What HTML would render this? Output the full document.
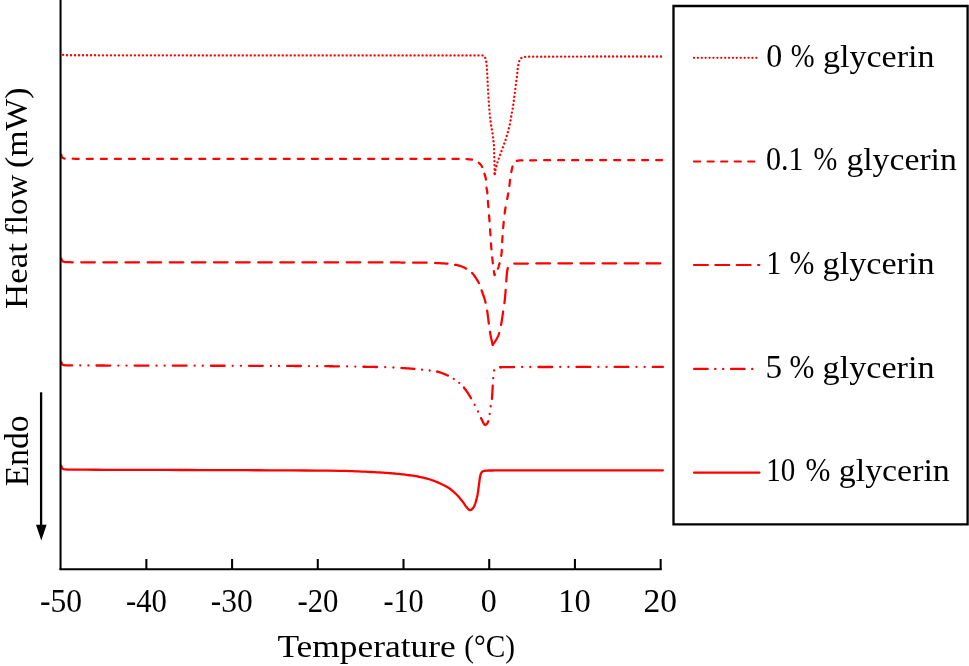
<!DOCTYPE html>
<html lang="en"><head><meta charset="utf-8"><title>DSC thermograms</title>
<style>html,body{margin:0;padding:0;background:#fff}svg{display:block}text{font-family:"Liberation Serif",serif;font-size:33px;fill:#000}</style></head><body>
<svg width="969" height="666" viewBox="0 0 969 666">
<rect width="969" height="666" fill="#fff"/>
<g fill="none" stroke="#ff0000" stroke-linecap="round" stroke-linejoin="round">
<path d="M61.30,52.30 L62.00,54.50 L64.00,55.20 L66.91,55.22 L69.85,55.24 L72.81,55.25 L75.80,55.26 L78.81,55.27 L81.83,55.28 L84.86,55.29 L87.90,55.29 L90.94,55.29 L93.97,55.29 L96.99,55.30 L100.00,55.30 L116.67,55.32 L133.33,55.33 L150.00,55.34 L166.67,55.36 L183.33,55.37 L200.00,55.38 L216.67,55.38 L233.33,55.39 L250.00,55.39 L266.67,55.40 L283.33,55.40 L300.00,55.40 L314.17,55.40 L328.33,55.40 L342.50,55.40 L356.67,55.40 L370.83,55.40 L385.00,55.40 L399.17,55.40 L413.33,55.40 L427.50,55.40 L441.67,55.40 L455.83,55.40 L470.00,55.40 L471.57,55.40 L473.15,55.40 L474.74,55.40 L476.33,55.40 L477.90,55.40 L479.46,55.40 L481.00,55.40 L482.50,55.40 L484.40,56.20 L485.24,57.79 L485.80,59.80 L486.22,61.63 L486.50,63.50 L486.67,65.55 L486.80,67.60 L486.91,69.18 L487.01,70.76 L487.11,72.34 L487.21,73.92 L487.30,75.50 L487.39,77.12 L487.47,78.74 L487.54,80.36 L487.62,81.98 L487.70,83.60 L487.78,85.18 L487.86,86.76 L487.93,88.34 L488.01,89.92 L488.10,91.50 L488.19,93.08 L488.29,94.66 L488.39,96.24 L488.49,97.82 L488.60,99.40 L488.71,101.00 L488.83,102.60 L488.95,104.20 L489.07,105.80 L489.20,107.40 L489.33,109.04 L489.46,110.68 L489.60,112.32 L489.74,113.96 L489.90,115.60 L490.06,117.12 L490.22,118.64 L490.40,120.17 L490.59,121.68 L490.80,123.20 L491.03,124.70 L491.30,126.20 L491.58,127.70 L491.85,129.20 L492.10,130.70 L492.34,132.32 L492.58,133.93 L492.80,135.56 L493.01,137.18 L493.20,138.80 L493.39,140.44 L493.58,142.08 L493.76,143.72 L493.91,145.36 L494.00,147.00 L494.05,148.62 L494.09,150.24 L494.13,151.86 L494.16,153.48 L494.20,155.10 L494.26,156.72 L494.33,158.34 L494.40,159.96 L494.46,161.58 L494.50,163.20 L494.52,164.70 L494.54,166.20 L494.56,167.70 L494.57,169.20 L494.58,170.70 L494.59,172.20 L494.60,173.70 L494.60,175.20" stroke-width="2.35" stroke-dasharray="0.01 3.985" stroke-dashoffset="0.56"/>
<path d="M494.60,175.20 L494.84,173.62 L495.12,172.04 L495.42,170.48 L495.76,168.92 L496.12,167.37 L496.50,165.83 L496.90,164.30 L497.43,162.51 L498.03,160.73 L498.67,158.97 L499.30,157.20 L499.83,155.70 L500.37,154.20 L500.91,152.70 L501.45,151.20 L502.00,149.70 L502.54,148.24 L503.09,146.78 L503.64,145.33 L504.18,143.87 L504.70,142.40 L505.19,140.95 L505.66,139.49 L506.12,138.03 L506.57,136.57 L507.00,135.10 L507.45,133.55 L507.89,131.99 L508.32,130.43 L508.72,128.87 L509.10,127.30 L509.45,125.73 L509.78,124.15 L510.10,122.57 L510.40,120.98 L510.70,119.40 L511.01,117.68 L511.30,115.95 L511.60,114.22 L511.90,112.50 L512.20,110.93 L512.52,109.37 L512.80,107.80 L513.04,106.22 L513.27,104.65 L513.48,103.06 L513.69,101.48 L513.90,99.90 L514.13,98.26 L514.35,96.62 L514.57,94.98 L514.79,93.34 L515.00,91.70 L515.19,90.12 L515.36,88.54 L515.53,86.96 L515.71,85.38 L515.90,83.80 L516.11,82.20 L516.34,80.60 L516.57,79.00 L516.80,77.40 L517.00,75.80 L517.17,74.22 L517.31,72.64 L517.45,71.05 L517.61,69.47 L517.80,67.90 L518.15,65.79 L518.60,63.70 L519.03,61.89 L519.60,60.20 L520.53,58.67 L521.80,57.60 L523.55,57.13 L525.50,56.90 L527.12,56.82 L528.74,56.76 L530.37,56.72 L532.00,56.70 L542.91,56.66 L553.81,56.62 L564.72,56.60 L575.62,56.57 L586.53,56.55 L597.44,56.53 L608.35,56.52 L619.25,56.51 L630.16,56.51 L641.08,56.50 L651.99,56.50 L662.90,56.50" stroke-width="2.35" stroke-dasharray="0.01 3.985" stroke-dashoffset="2.82"/>
<path d="M61.30,154.90 L61.56,155.87 L61.82,156.83 L62.28,157.63 L63.18,158.07 L64.08,158.50 L65.04,158.70 L66.04,158.71 L67.04,158.72 L68.04,158.72 L69.04,158.73 L70.04,158.73 L71.04,158.74 L72.04,158.74 L73.04,158.74 L74.04,158.75 L75.04,158.75 L76.04,158.75 L77.04,158.76 L78.04,158.76 L79.04,158.76 L80.04,158.76 L81.04,158.77 L82.04,158.77 L83.04,158.77 L84.04,158.77 L85.04,158.77 L86.04,158.77 L87.04,158.77 L88.04,158.77 L89.04,158.78 L90.04,158.78 L91.04,158.78 L92.04,158.78 L93.04,158.78 L94.04,158.78 L95.04,158.78 L96.04,158.78 L97.04,158.78 L98.04,158.78 L99.04,158.78 L100.04,158.78 L101.04,158.78 L102.04,158.78 L103.04,158.78 L104.04,158.78 L105.04,158.78 L106.04,158.78 L107.04,158.78 L108.04,158.78 L109.04,158.78 L110.04,158.78 L111.04,158.78 L112.04,158.78 L113.04,158.78 L114.04,158.78 L115.04,158.78 L116.04,158.78 L117.04,158.78 L118.04,158.78 L119.04,158.78 L120.05,158.78 L121.05,158.78 L122.05,158.78 L123.05,158.78 L124.05,158.78 L125.05,158.78 L126.05,158.78 L127.05,158.78 L128.05,158.78 L129.05,158.78 L130.05,158.78 L131.05,158.78 L132.05,158.78 L133.05,158.78 L134.05,158.78 L135.05,158.78 L136.05,158.78 L137.05,158.78 L138.05,158.78 L139.05,158.78 L140.05,158.78 L141.05,158.78 L142.05,158.78 L143.05,158.79 L144.05,158.79 L145.05,158.79 L146.05,158.79 L147.05,158.79 L148.05,158.79 L149.05,158.79 L150.05,158.79 L151.05,158.79 L152.05,158.79 L153.05,158.79 L154.05,158.79 L155.05,158.79 L156.05,158.79 L157.05,158.79 L158.05,158.79 L159.05,158.79 L160.05,158.79 L161.05,158.79 L162.05,158.79 L163.05,158.79 L164.05,158.79 L165.05,158.79 L166.05,158.79 L167.05,158.79 L168.05,158.79 L169.05,158.79 L170.05,158.79 L171.05,158.79 L172.05,158.79 L173.05,158.79 L174.05,158.79 L175.05,158.79 L176.06,158.79 L177.06,158.79 L178.06,158.79 L179.06,158.79 L180.06,158.79 L181.06,158.79 L182.06,158.79 L183.06,158.79 L184.06,158.79 L185.06,158.79 L186.06,158.79 L187.06,158.79 L188.06,158.79 L189.06,158.79 L190.06,158.79 L191.06,158.79 L192.06,158.79 L193.06,158.79 L194.06,158.79 L195.06,158.79 L196.06,158.79 L197.06,158.79 L198.06,158.79 L199.06,158.79 L200.06,158.79 L201.06,158.79 L202.06,158.79 L203.06,158.79 L204.06,158.79 L205.06,158.79 L206.06,158.79 L207.06,158.79 L208.06,158.79 L209.06,158.79 L210.06,158.79 L211.06,158.79 L212.06,158.79 L213.06,158.79 L214.06,158.79 L215.06,158.79 L216.06,158.79 L217.06,158.79 L218.06,158.79 L219.06,158.79 L220.06,158.79 L221.06,158.79 L222.06,158.79 L223.06,158.79 L224.06,158.79 L225.06,158.79 L226.06,158.79 L227.06,158.79 L228.06,158.79 L229.06,158.79 L230.06,158.79 L231.06,158.79 L232.07,158.79 L233.07,158.79 L234.07,158.79 L235.07,158.79 L236.07,158.79 L237.07,158.79 L238.07,158.79 L239.07,158.79 L240.07,158.79 L241.07,158.79 L242.07,158.79 L243.07,158.79 L244.07,158.79 L245.07,158.79 L246.07,158.79 L247.07,158.79 L248.07,158.79 L249.07,158.79 L250.07,158.79 L251.07,158.79 L252.07,158.79 L253.07,158.79 L254.07,158.79 L255.07,158.79 L256.07,158.79 L257.07,158.79 L258.07,158.79 L259.07,158.79 L260.07,158.79 L261.07,158.79 L262.07,158.79 L263.07,158.79 L264.07,158.79 L265.07,158.79 L266.07,158.79 L267.07,158.79 L268.07,158.79 L269.07,158.79 L270.07,158.79 L271.07,158.79 L272.07,158.79 L273.07,158.79 L274.07,158.79 L275.07,158.79 L276.07,158.79 L277.07,158.79 L278.07,158.79 L279.07,158.79 L280.07,158.79 L281.07,158.79 L282.07,158.79 L283.07,158.79 L284.07,158.79 L285.07,158.79 L286.07,158.79 L287.07,158.79 L288.08,158.79 L289.08,158.79 L290.08,158.79 L291.08,158.79 L292.08,158.79 L293.08,158.79 L294.08,158.79 L295.08,158.79 L296.08,158.79 L297.08,158.79 L298.08,158.79 L299.08,158.79 L300.08,158.79 L301.08,158.79 L302.08,158.79 L303.08,158.79 L304.08,158.79 L305.08,158.79 L306.08,158.79 L307.08,158.79 L308.08,158.79 L309.08,158.79 L310.08,158.79 L311.08,158.79 L312.08,158.79 L313.08,158.79 L314.08,158.79 L315.08,158.79 L316.08,158.79 L317.08,158.79 L318.08,158.79 L319.08,158.79 L320.08,158.79 L321.08,158.79 L322.08,158.79 L323.08,158.79 L324.08,158.79 L325.08,158.79 L326.08,158.79 L327.08,158.79 L328.08,158.79 L329.08,158.79 L330.08,158.79 L331.08,158.79 L332.08,158.79 L333.08,158.79 L334.08,158.79 L335.08,158.79 L336.08,158.79 L337.08,158.79 L338.08,158.79 L339.08,158.79 L340.08,158.79 L341.08,158.79 L342.08,158.79 L343.08,158.79 L344.09,158.79 L345.09,158.79 L346.09,158.79 L347.09,158.79 L348.09,158.79 L349.09,158.79 L350.09,158.79 L351.09,158.79 L352.09,158.79 L353.09,158.79 L354.09,158.79 L355.09,158.79 L356.09,158.79 L357.09,158.79 L358.09,158.79 L359.09,158.79 L360.09,158.79 L361.09,158.79 L362.09,158.79 L363.09,158.79 L364.09,158.79 L365.09,158.79 L366.09,158.79 L367.09,158.79 L368.09,158.79 L369.09,158.79 L370.09,158.79 L371.09,158.79 L372.09,158.79 L373.09,158.79 L374.09,158.79 L375.09,158.79 L376.09,158.79 L377.09,158.79 L378.09,158.79 L379.09,158.79 L380.09,158.79 L381.09,158.79 L382.09,158.79 L383.09,158.79 L384.09,158.79 L385.09,158.79 L386.09,158.79 L387.09,158.79 L388.09,158.79 L389.09,158.79 L390.09,158.79 L391.09,158.79 L392.09,158.79 L393.09,158.79 L394.09,158.79 L395.09,158.79 L396.09,158.79 L397.09,158.79 L398.09,158.79 L399.09,158.79 L400.10,158.79 L401.10,158.80 L402.10,158.80 L403.10,158.80 L404.10,158.80 L405.10,158.80 L406.10,158.80 L407.10,158.80 L408.10,158.80 L409.10,158.80 L410.10,158.80 L411.10,158.80 L412.10,158.80 L413.10,158.80 L414.10,158.80 L415.10,158.80 L416.10,158.80 L417.10,158.80 L418.10,158.80 L419.10,158.80 L420.10,158.80 L421.10,158.80 L422.10,158.80 L423.10,158.80 L424.10,158.80 L425.10,158.80 L426.10,158.80 L427.10,158.80 L428.10,158.80 L429.10,158.80 L430.10,158.80 L431.10,158.80 L432.10,158.80 L433.10,158.80 L434.10,158.80 L435.10,158.80 L436.10,158.80 L437.10,158.80 L438.10,158.80 L439.10,158.80 L440.10,158.80 L441.10,158.80 L442.10,158.80 L443.10,158.81 L444.10,158.81 L445.10,158.81 L446.10,158.82 L447.10,158.82 L448.10,158.83 L449.10,158.84 L450.10,158.85 L451.10,158.86 L452.10,158.87 L453.10,158.88 L454.10,158.89 L455.10,158.90 L456.10,158.92 L457.10,158.93 L458.10,158.95 L459.10,158.97 L460.10,158.99 L461.10,159.01 L462.10,159.03 L463.10,159.05 L464.10,159.07 L465.10,159.10 L466.10,159.13 L466.50,159.15" stroke-width="2.25" stroke-dasharray="6.05 8.02" stroke-dashoffset="0.56"/>
<path d="M466.50,159.15 L467.50,159.20 L468.50,159.27 L469.50,159.37 L470.49,159.48 L471.48,159.60 L472.47,159.75 L473.44,159.98 L474.40,160.26 L475.32,160.67 L476.22,161.10 L477.07,161.62 L477.91,162.16 L478.71,162.77" pathLength="14.070" stroke-width="2.25" stroke-dasharray="6.05 8.02"/>
<path d="M478.71,162.77 L479.45,163.43 L480.18,164.12 L480.82,164.88 L481.44,165.67 L481.97,166.52 L482.41,167.41 L482.78,168.34 L483.09,169.29 L483.37,170.25 L483.64,171.21 L483.91,172.18 L484.21,173.13 L484.39,173.70" pathLength="14.070" stroke-width="2.25" stroke-dasharray="6.05 8.02"/>
<path d="M484.39,173.70 L484.71,174.65 L485.03,175.60 L485.31,176.56 L485.59,177.52 L485.76,178.50 L485.91,179.49 L485.99,180.49 L486.05,181.49 L486.09,182.49 L486.14,183.48 L486.18,184.48 L486.24,185.48 L486.31,186.48 L486.44,187.47 L486.47,187.67" pathLength="14.070" stroke-width="2.25" stroke-dasharray="6.05 8.02"/>
<path d="M486.47,187.67 L486.64,188.66 L486.82,189.64 L487.01,190.62 L487.17,191.61 L487.31,192.60 L487.40,193.59 L487.49,194.59 L487.57,195.59 L487.64,196.58 L487.71,197.58 L487.77,198.58 L487.84,199.58 L487.90,200.58 L487.93,200.98" pathLength="14.070" stroke-width="2.25" stroke-dasharray="6.05 8.02"/>
<path d="M487.93,200.98 L487.99,201.97 L488.06,202.97 L488.14,203.97 L488.21,204.97 L488.30,205.96 L488.38,206.96 L488.46,207.96 L488.54,208.95 L488.63,209.95 L488.71,210.95 L488.79,211.94 L488.88,212.94 L488.96,213.94 L489.04,214.93 L489.07,215.33" pathLength="14.070" stroke-width="2.25" stroke-dasharray="6.05 8.02"/>
<path d="M489.07,215.33 L489.15,216.33 L489.22,217.33 L489.30,218.32 L489.37,219.32 L489.45,220.32 L489.52,221.32 L489.59,222.31 L489.66,223.31 L489.73,224.31 L489.80,225.31 L489.87,226.31 L489.94,227.30 L490.01,228.30 L490.07,229.30" pathLength="14.070" stroke-width="2.25" stroke-dasharray="6.05 8.02"/>
<path d="M490.07,229.30 L490.14,230.30 L490.21,231.30 L490.27,232.29 L490.33,233.29 L490.40,234.29 L490.46,235.29 L490.52,236.29 L490.57,237.28 L490.63,238.28 L490.69,239.28 L490.75,240.28 L490.82,241.28 L490.88,242.28 L490.95,243.27" pathLength="14.070" stroke-width="2.25" stroke-dasharray="6.05 8.02"/>
<path d="M490.95,243.27 L491.02,244.27 L491.09,245.27 L491.17,246.27 L491.25,247.26 L491.33,248.26 L491.41,249.26 L491.50,250.25 L491.59,251.25 L491.68,252.25 L491.77,253.24 L491.87,254.24 L491.97,255.23 L492.07,256.23 L492.17,257.22 L492.19,257.42" pathLength="14.070" stroke-width="2.25" stroke-dasharray="6.05 8.02"/>
<path d="M492.19,257.42 L492.30,258.42 L492.40,259.41 L492.51,260.40 L492.62,261.40 L492.74,262.39 L492.86,263.39 L492.98,264.38 L493.10,265.37 L493.23,266.36 L493.36,267.36 L493.49,268.35 L493.62,269.34 L493.76,270.33 L493.87,271.12" pathLength="14.070" stroke-width="2.25" stroke-dasharray="6.05 8.02"/>
<path d="M493.87,271.12 L494.01,272.11 L494.16,273.10 L494.30,274.09 L494.45,275.08 L494.83,274.81 L495.32,273.94 L495.79,273.06 L496.25,272.17 L496.70,271.27 L497.12,270.37 L497.53,269.45 L497.84,268.72" pathLength="14.070" stroke-width="2.25" stroke-dasharray="6.05 8.02"/>
<path d="M497.84,268.72 L498.20,267.78 L498.53,266.84 L498.84,265.89 L499.12,264.93 L499.40,263.97 L499.66,263.00 L499.91,262.04 L500.16,261.07 L500.39,260.09 L500.61,259.12 L500.81,258.14 L501.00,257.15 L501.17,256.17 L501.23,255.77" pathLength="14.070" stroke-width="2.25" stroke-dasharray="6.05 8.02"/>
<path d="M501.23,255.77 L501.37,254.78 L501.49,253.79 L501.60,252.80 L501.68,251.80 L501.75,250.80 L501.81,249.80 L501.87,248.81 L501.92,247.81 L501.97,246.81 L502.01,245.81 L502.06,244.81 L502.10,243.81 L502.15,242.81 L502.18,242.21" pathLength="14.070" stroke-width="2.25" stroke-dasharray="6.05 8.02"/>
<path d="M502.18,242.21 L502.23,241.21 L502.29,240.21 L502.35,239.22 L502.41,238.22 L502.48,237.22 L502.54,236.22 L502.61,235.22 L502.68,234.23 L502.75,233.23 L502.82,232.23 L502.90,231.23 L502.97,230.24 L503.05,229.24 L503.13,228.24 L503.15,228.04" pathLength="14.070" stroke-width="2.25" stroke-dasharray="6.05 8.02"/>
<path d="M503.15,228.04 L503.23,227.05 L503.32,226.05 L503.40,225.05 L503.50,224.06 L503.59,223.06 L503.69,222.07 L503.79,221.07 L503.89,220.08 L503.99,219.08 L504.10,218.09 L504.21,217.09 L504.33,216.10 L504.45,215.11 L504.57,214.11 L504.62,213.72" pathLength="14.070" stroke-width="2.25" stroke-dasharray="6.05 8.02"/>
<path d="M504.62,213.72 L504.75,212.73 L504.89,211.73 L505.02,210.74 L505.17,209.75 L505.33,208.77 L505.49,207.78 L505.66,206.79 L505.84,205.81 L506.03,204.83 L506.22,203.85 L506.41,202.86 L506.60,201.88 L506.80,200.90 L506.99,199.92 L507.18,198.94" pathLength="14.070" stroke-width="2.25" stroke-dasharray="6.05 8.02"/>
<path d="M507.18,198.94 L507.36,197.95 L507.54,196.97 L507.72,195.99 L507.89,195.00 L508.07,194.02 L508.24,193.03 L508.42,192.05 L508.59,191.06 L508.75,190.08 L508.91,189.09 L509.07,188.10 L509.21,187.11 L509.34,186.12 L509.37,185.92" pathLength="14.070" stroke-width="2.25" stroke-dasharray="6.05 8.02"/>
<path d="M509.37,185.92 L509.49,184.93 L509.61,183.93 L509.73,182.94 L509.85,181.95 L509.98,180.96 L510.11,179.97 L510.25,178.97 L510.38,177.98 L510.53,176.99 L510.67,176.00 L510.82,175.01 L510.98,174.03 L511.15,173.04 L511.32,172.06" pathLength="14.070" stroke-width="2.25" stroke-dasharray="6.05 8.02"/>
<path d="M511.32,172.06 L511.50,171.07 L511.69,170.09 L511.89,169.11 L512.11,168.13 L512.34,167.16 L512.59,166.19 L512.84,165.23 L513.18,164.28 L513.54,163.35 L514.18,162.59 L514.87,161.87 L515.56,161.15 L516.51,160.89 L516.71,160.85" pathLength="14.070" stroke-width="2.25" stroke-dasharray="6.05 8.02"/>
<path d="M516.71,160.85 L517.69,160.68 L518.68,160.53 L519.68,160.44 L520.68,160.36 L521.68,160.32 L522.68,160.30 L523.68,160.30 L524.68,160.29 L525.68,160.29 L526.68,160.28 L527.68,160.28 L528.68,160.28 L529.68,160.27 L530.08,160.27" pathLength="14.070" stroke-width="2.25" stroke-dasharray="6.05 8.02"/>
<path d="M530.08,160.27 L531.08,160.27 L532.08,160.26 L533.08,160.26 L534.08,160.26 L535.08,160.25 L536.08,160.25 L537.08,160.25 L538.08,160.24 L539.08,160.24 L540.08,160.24 L541.08,160.23 L542.08,160.23 L543.08,160.23 L544.08,160.23 L545.08,160.22 L546.08,160.22 L547.08,160.22 L548.08,160.21 L549.08,160.21 L550.08,160.21 L551.08,160.21 L552.08,160.20 L553.08,160.20 L554.08,160.20 L555.08,160.20 L556.08,160.19 L557.08,160.19 L558.08,160.19 L559.08,160.19 L560.08,160.18 L561.08,160.18 L562.08,160.18 L563.08,160.18 L564.08,160.18 L565.08,160.17 L566.08,160.17 L567.08,160.17 L568.08,160.17 L569.08,160.17 L570.08,160.16 L571.08,160.16 L572.08,160.16 L573.08,160.16 L574.08,160.16 L575.08,160.15 L576.08,160.15 L577.08,160.15 L578.08,160.15 L579.09,160.15 L580.09,160.15 L581.09,160.14 L582.09,160.14 L583.09,160.14 L584.09,160.14 L585.09,160.14 L586.09,160.14 L587.09,160.14 L588.09,160.14 L589.09,160.13 L590.09,160.13 L591.09,160.13 L592.09,160.13 L593.09,160.13 L594.09,160.13 L595.09,160.13 L596.09,160.13 L597.09,160.13 L598.09,160.12 L599.09,160.12 L600.09,160.12 L601.09,160.12 L602.09,160.12 L603.09,160.12 L604.09,160.12 L605.09,160.12 L606.09,160.12 L607.09,160.12 L608.09,160.12 L609.09,160.12 L610.09,160.11 L611.09,160.11 L612.09,160.11 L613.09,160.11 L614.09,160.11 L615.09,160.11 L616.09,160.11 L617.09,160.11 L618.09,160.11 L619.09,160.11 L620.09,160.11 L621.09,160.11 L622.09,160.11 L623.09,160.11 L624.09,160.11 L625.09,160.11 L626.09,160.11 L627.09,160.11 L628.09,160.10 L629.09,160.10 L630.09,160.10 L631.09,160.10 L632.09,160.10 L633.09,160.10 L634.09,160.10 L635.10,160.10 L636.10,160.10 L637.10,160.10 L638.10,160.10 L639.10,160.10 L640.10,160.10 L641.10,160.10 L642.10,160.10 L643.10,160.10 L644.10,160.10 L645.10,160.10 L646.10,160.10 L647.10,160.10 L648.10,160.10 L649.10,160.10 L650.10,160.10 L651.10,160.10 L652.10,160.10 L653.10,160.10 L654.10,160.10 L655.10,160.10 L656.10,160.10" pathLength="126.630" stroke-width="2.25" stroke-dasharray="6.05 8.02"/>
<path d="M656.10,160.10 L657.10,160.10 L658.10,160.10 L659.10,160.10 L660.10,160.10 L661.10,160.10 L662.10,160.10 L662.90,160.10" stroke-width="2.25" stroke-dasharray="6.05 8.02"/>
<path d="M61.30,258.60 L61.60,259.55 L61.91,260.51 L62.59,261.16 L63.46,261.64 L64.44,261.87 L65.42,262.03 L66.42,262.09 L67.42,262.13 L68.42,262.18 L69.42,262.21 L70.42,262.24 L71.42,262.27 L72.42,262.28 L73.42,262.29 L74.42,262.30 L75.42,262.30 L76.42,262.30 L77.42,262.30 L78.42,262.30 L79.42,262.30 L80.42,262.30 L81.22,262.30" stroke-width="2.25" stroke-dasharray="13.6 8.5" stroke-dashoffset="0.30"/>
<path d="M81.22,262.30 L82.22,262.30 L83.22,262.30 L84.22,262.30 L85.22,262.30 L86.22,262.30 L87.22,262.30 L88.22,262.30 L89.22,262.30 L90.22,262.30 L91.22,262.30 L92.22,262.30 L93.22,262.30 L94.22,262.30 L95.22,262.30 L96.22,262.30 L97.22,262.30 L98.22,262.30 L99.22,262.30 L100.22,262.30 L101.22,262.30 L102.22,262.30 L103.22,262.30 L104.22,262.30 L105.22,262.30 L106.22,262.30 L107.22,262.30 L108.22,262.30 L109.22,262.30 L110.22,262.30 L111.22,262.30 L112.22,262.30 L113.22,262.30 L114.22,262.30 L115.23,262.30 L116.23,262.30 L117.23,262.30 L118.23,262.30 L119.23,262.30 L120.23,262.30 L121.23,262.30 L122.23,262.30 L123.23,262.30 L124.23,262.30 L125.23,262.30 L126.23,262.30 L127.23,262.30 L128.23,262.30 L129.23,262.30 L130.23,262.30 L131.23,262.30 L132.23,262.30 L133.23,262.30 L134.23,262.30 L135.23,262.30 L136.23,262.30 L137.23,262.30 L138.23,262.30 L139.23,262.30 L140.23,262.30 L141.23,262.30 L142.23,262.30 L143.23,262.30 L144.23,262.30 L145.23,262.30 L146.23,262.30 L147.23,262.30 L148.23,262.30 L149.23,262.30 L150.23,262.30 L151.23,262.30 L152.23,262.30 L153.23,262.30 L154.23,262.30 L155.23,262.30 L156.23,262.30 L157.23,262.30 L158.23,262.30 L159.23,262.30 L160.24,262.30 L161.24,262.30 L162.24,262.30 L163.24,262.30 L164.24,262.30 L165.24,262.30 L166.24,262.30 L167.24,262.30 L168.24,262.30 L169.24,262.30 L170.24,262.30 L171.24,262.30 L172.24,262.30 L173.24,262.30 L174.24,262.30 L175.24,262.30 L176.24,262.30 L177.24,262.30 L178.24,262.30 L179.24,262.30 L180.24,262.30 L181.24,262.30 L182.24,262.30 L183.24,262.30 L184.24,262.30 L185.24,262.30 L186.24,262.30 L187.24,262.30 L188.24,262.30 L189.24,262.30 L190.24,262.30 L191.24,262.30 L192.24,262.30 L193.24,262.30 L194.24,262.30 L195.24,262.30 L196.24,262.30 L197.24,262.30 L198.24,262.30 L199.24,262.30 L200.24,262.30 L201.24,262.30 L202.24,262.30 L203.24,262.30 L204.24,262.30 L205.25,262.30 L206.25,262.30 L207.25,262.30 L208.25,262.30 L209.25,262.30 L210.25,262.30 L211.25,262.30 L212.25,262.30 L213.25,262.30 L214.25,262.30 L215.25,262.30 L216.25,262.30 L217.25,262.30 L218.25,262.30 L219.25,262.30 L220.25,262.30 L221.25,262.30 L222.25,262.30 L223.25,262.30 L224.25,262.30 L225.25,262.30 L226.25,262.30 L227.25,262.30 L228.25,262.30 L229.25,262.30 L230.25,262.30 L231.25,262.30 L232.25,262.30 L233.25,262.30 L234.25,262.30 L235.25,262.30 L236.25,262.30 L237.25,262.30 L238.25,262.30 L239.25,262.30 L240.25,262.30 L241.25,262.30 L242.25,262.30 L243.25,262.30 L244.25,262.30 L245.25,262.30 L246.25,262.30 L247.25,262.30 L248.25,262.30 L249.26,262.30 L250.26,262.30 L251.26,262.30 L252.26,262.30 L253.26,262.30 L254.26,262.30 L255.26,262.30 L256.26,262.30 L257.26,262.30 L258.26,262.30 L259.26,262.30 L260.26,262.30 L261.26,262.30 L262.26,262.30 L263.26,262.30 L264.26,262.30 L265.26,262.30 L266.26,262.30 L267.26,262.30 L268.26,262.30 L269.26,262.30 L270.26,262.30 L271.26,262.30 L272.26,262.30 L273.26,262.30 L274.26,262.30 L275.26,262.30 L276.26,262.30 L277.26,262.30 L278.26,262.30 L279.26,262.30 L280.26,262.30 L281.26,262.30 L282.26,262.30 L283.26,262.30 L284.26,262.30 L285.26,262.30 L286.26,262.30 L287.26,262.30 L288.26,262.30 L289.26,262.30 L290.26,262.30 L291.26,262.30 L292.26,262.30 L293.26,262.30 L294.27,262.30 L295.27,262.30 L296.27,262.30 L297.27,262.30 L298.27,262.30 L299.27,262.30 L300.27,262.30 L301.27,262.30 L302.27,262.30 L303.27,262.30 L304.27,262.30 L305.27,262.30 L306.27,262.30 L307.27,262.30 L308.27,262.30 L309.27,262.30 L310.27,262.30 L311.27,262.30 L312.27,262.30 L313.27,262.30 L314.27,262.30 L315.27,262.30 L316.27,262.30 L317.27,262.30 L318.27,262.31 L319.27,262.31 L320.27,262.31 L321.27,262.31 L322.27,262.31 L323.27,262.31 L324.27,262.31 L325.27,262.31 L326.27,262.31 L327.27,262.31 L328.27,262.31 L329.27,262.31 L330.27,262.31 L331.27,262.32 L332.27,262.32 L333.27,262.32 L334.27,262.32 L335.27,262.32 L336.27,262.32 L337.27,262.32 L338.27,262.32 L339.28,262.33 L340.28,262.33 L341.28,262.33 L342.28,262.33 L343.28,262.33 L344.28,262.33 L345.28,262.33 L346.28,262.34 L347.28,262.34 L348.28,262.34 L349.28,262.34 L350.28,262.34 L351.28,262.35 L352.28,262.35 L353.28,262.35 L354.28,262.35 L355.28,262.35 L356.28,262.36 L357.28,262.36 L358.28,262.36 L359.28,262.36 L360.28,262.36 L361.28,262.37 L362.28,262.37 L363.28,262.37 L364.28,262.37 L365.28,262.38 L366.28,262.38 L367.28,262.38 L368.28,262.38 L369.28,262.39 L370.28,262.39 L371.28,262.39 L372.28,262.40 L373.28,262.40 L374.28,262.40 L375.28,262.41 L376.28,262.41 L377.28,262.41 L378.28,262.41 L379.28,262.42 L380.28,262.42 L381.28,262.42 L382.28,262.43 L383.28,262.43 L384.28,262.43 L385.29,262.44 L386.29,262.44 L387.29,262.45 L388.29,262.45 L389.29,262.45 L390.29,262.46 L391.29,262.46 L392.29,262.47 L393.29,262.47 L394.29,262.47 L395.29,262.48 L396.29,262.48 L397.29,262.49 L398.29,262.49 L399.29,262.49 L400.29,262.50 L401.29,262.50 L402.29,262.51 L403.29,262.51 L404.29,262.52 L405.29,262.52 L406.29,262.53 L407.29,262.53 L408.29,262.54 L409.29,262.54 L410.29,262.55 L411.29,262.55 L412.29,262.56 L413.29,262.56 L414.29,262.57 L415.29,262.57 L416.29,262.58 L417.29,262.59 L418.29,262.59 L419.29,262.60 L420.29,262.60 L421.29,262.61 L422.29,262.62 L423.29,262.64 L424.29,262.65 L425.29,262.67 L426.29,262.70 L427.29,262.72 L428.29,262.75 L429.29,262.78 L430.29,262.81 L431.29,262.85 L432.29,262.88 L433.29,262.92 L434.29,262.96 L435.09,262.99" pathLength="353.600" stroke-width="2.25" stroke-dasharray="13.6 8.5"/>
<path d="M435.09,262.99 L436.09,263.03 L437.09,263.07 L438.09,263.12 L439.09,263.16 L440.09,263.20 L441.09,263.26 L442.08,263.31 L443.08,263.37 L444.08,263.44 L445.08,263.52 L446.07,263.60 L447.07,263.69 L448.07,263.78 L449.06,263.88 L450.06,263.99 L451.05,264.11 L452.04,264.25 L453.03,264.39 L454.02,264.55 L455.00,264.73 L455.20,264.77" pathLength="22.100" stroke-width="2.25" stroke-dasharray="13.6 8.5"/>
<path d="M455.20,264.77 L456.18,264.95 L457.16,265.17 L458.13,265.39 L459.10,265.64 L460.06,265.92 L461.02,266.21 L461.95,266.56 L462.88,266.95 L463.78,267.37 L464.67,267.83 L465.55,268.31 L466.42,268.80 L467.28,269.31 L468.14,269.82 L468.98,270.37 L469.80,270.93 L470.59,271.55 L471.36,272.19 L472.07,272.89" pathLength="22.100" stroke-width="2.25" stroke-dasharray="13.6 8.5"/>
<path d="M472.07,272.89 L472.74,273.63 L473.37,274.41 L473.97,275.21 L474.55,276.02 L475.12,276.84 L475.68,277.67 L476.24,278.50 L476.77,279.35 L477.29,280.20 L477.80,281.07 L478.26,281.95 L478.72,282.84 L479.12,283.76 L479.52,284.68 L479.88,285.61 L480.24,286.54 L480.58,287.48 L480.92,288.42 L481.25,289.37 L481.59,290.31" pathLength="22.100" stroke-width="2.25" stroke-dasharray="13.6 8.5"/>
<path d="M481.59,290.31 L481.93,291.25 L482.27,292.19 L482.61,293.13 L482.95,294.07 L483.28,295.02 L483.61,295.96 L483.92,296.91 L484.23,297.86 L484.53,298.81 L484.82,299.77 L485.09,300.73 L485.34,301.70 L485.59,302.67 L485.82,303.65 L486.03,304.62 L486.23,305.60 L486.43,306.58 L486.61,307.57 L486.79,308.55 L486.96,309.54 L487.11,310.53 L487.14,310.72" pathLength="22.100" stroke-width="2.25" stroke-dasharray="13.6 8.5"/>
<path d="M487.14,310.72 L487.30,311.71 L487.44,312.70 L487.58,313.69 L487.71,314.68 L487.84,315.68 L487.97,316.67 L488.09,317.66 L488.21,318.65 L488.34,319.65 L488.46,320.64 L488.58,321.63 L488.71,322.62 L488.84,323.61 L488.97,324.61 L489.09,325.60 L489.22,326.59 L489.35,327.58 L489.48,328.57 L489.62,329.56 L489.76,330.55 L489.92,331.54 L489.95,331.74" pathLength="22.100" stroke-width="2.25" stroke-dasharray="13.6 8.5"/>
<path d="M489.95,331.74 L490.12,332.73 L490.29,333.71 L490.47,334.69 L490.66,335.68 L490.85,336.66 L491.05,337.64 L491.25,338.62 L491.46,339.60 L491.68,340.57 L491.90,341.55 L492.13,342.52 L492.37,343.49 L492.62,344.46 L492.73,344.76" stroke-width="2.25" stroke-dasharray="13.6 8.5"/>
<path d="M492.73,344.76 L493.34,343.96 L493.93,343.15 L494.50,342.34 L495.05,341.50 L495.59,340.66 L496.11,339.80 L496.60,338.93 L497.07,338.05 L497.52,337.16 L497.95,336.25 L498.35,335.34 L498.72,334.41 L499.07,333.47 L499.40,332.53 L499.69,331.57 L499.95,330.60 L500.19,329.63 L500.39,328.65 L500.58,327.67 L500.76,326.69 L500.93,325.70 L501.10,324.71 L501.26,323.73 L501.43,322.74 L501.60,321.76 L501.76,320.77 L501.91,319.78 L502.07,318.79 L502.22,317.80 L502.37,316.81 L502.51,315.82 L502.66,314.84 L502.80,313.85 L502.95,312.86 L503.09,311.87 L503.24,310.88 L503.39,309.89 L503.54,308.90 L503.69,307.91 L503.85,306.92 L504.00,305.93 L504.15,304.94 L504.29,303.95 L504.42,302.96 L504.54,301.97 L504.65,300.98 L504.76,299.98 L504.86,298.99 L504.96,297.99 L505.06,297.00 L505.16,296.00 L505.25,295.00 L505.33,294.01 L505.42,293.01 L505.50,292.01 L505.59,291.02 L505.67,290.02 L505.74,289.02 L505.82,288.03 L505.89,287.03 L505.96,286.03 L506.02,285.03 L506.08,284.03 L506.15,283.04 L506.21,282.04 L506.28,281.04 L506.36,280.04 L506.43,279.04 L506.50,278.05 L506.58,277.05 L506.66,276.05 L506.74,275.06 L506.84,274.06 L506.94,273.07 L507.06,272.07 L507.19,271.08 L507.37,270.10 L507.55,269.11 L507.83,268.15 L508.14,267.20 L508.62,266.33 L509.16,265.49 L509.94,264.86 L510.76,264.31 L511.71,264.00 L512.68,263.78 L513.67,263.64 L514.27,263.60" pathLength="88.400" stroke-width="2.25" stroke-dasharray="13.6 8.5"/>
<path d="M514.27,263.60 L515.27,263.59 L516.27,263.59 L517.27,263.58 L518.27,263.58 L519.27,263.57 L520.27,263.57 L521.27,263.56 L522.27,263.56 L523.27,263.55 L524.27,263.54 L525.27,263.54 L526.27,263.53 L527.27,263.53 L528.27,263.52 L529.27,263.52 L530.27,263.52 L531.27,263.51 L532.27,263.51 L533.27,263.50 L534.27,263.50 L535.27,263.49 L536.27,263.49 L537.27,263.48 L538.27,263.48 L539.27,263.47 L540.27,263.47 L541.27,263.47 L542.27,263.46 L543.27,263.46 L544.27,263.46 L545.27,263.45 L546.27,263.45 L547.27,263.44 L548.27,263.44 L549.27,263.44 L550.28,263.43 L551.28,263.43 L552.28,263.43 L553.28,263.42 L554.28,263.42 L555.28,263.42 L556.28,263.41 L557.28,263.41 L558.28,263.41 L559.28,263.41 L560.28,263.40 L561.28,263.40 L562.28,263.40 L563.28,263.39 L564.28,263.39 L565.28,263.39 L566.28,263.39 L567.28,263.38 L568.28,263.38 L569.28,263.38 L570.28,263.38 L571.28,263.37 L572.28,263.37 L573.28,263.37 L574.28,263.37 L575.28,263.36 L576.28,263.36 L577.28,263.36 L578.28,263.36 L579.28,263.36 L580.28,263.36 L581.28,263.35 L582.28,263.35 L583.28,263.35 L584.28,263.35 L585.28,263.35 L586.28,263.34 L587.28,263.34 L588.28,263.34 L589.28,263.34 L590.28,263.34 L591.28,263.34 L592.28,263.34 L593.28,263.33 L594.28,263.33 L595.28,263.33 L596.29,263.33 L597.29,263.33 L598.29,263.33 L599.29,263.33 L600.29,263.33 L601.29,263.32 L602.29,263.32 L603.29,263.32 L604.29,263.32 L605.29,263.32 L606.29,263.32 L607.29,263.32 L608.29,263.32 L609.29,263.32 L610.29,263.32 L611.29,263.31 L612.29,263.31 L613.29,263.31 L614.29,263.31 L615.29,263.31 L616.29,263.31 L617.29,263.31 L618.29,263.31 L619.29,263.31 L620.29,263.31 L621.29,263.31 L622.29,263.31 L623.29,263.31 L624.29,263.31 L625.29,263.31 L626.29,263.31 L627.29,263.31 L628.29,263.31 L629.29,263.30 L630.29,263.30 L631.29,263.30 L632.29,263.30 L633.29,263.30 L634.29,263.30 L635.29,263.30 L636.29,263.30 L637.29,263.30 L638.29,263.30 L639.29,263.30 L640.29,263.30 L641.30,263.30 L642.30,263.30 L643.30,263.30 L644.30,263.30 L645.30,263.30 L646.30,263.30 L646.70,263.30" pathLength="132.600" stroke-width="2.25" stroke-dasharray="13.6 8.5"/>
<path d="M646.70,263.30 L647.70,263.30 L648.70,263.30 L649.70,263.30 L650.70,263.30 L651.70,263.30 L652.70,263.30 L653.70,263.30 L654.70,263.30 L655.70,263.30 L656.70,263.30 L657.70,263.30 L658.70,263.30 L659.70,263.30 L660.70,263.30 L661.70,263.30 L662.70,263.30 L662.90,263.30" stroke-width="2.25" stroke-dasharray="13.6 8.5"/>
<path d="M61.30,362.30 L61.63,363.24 L61.96,364.19 L62.78,364.71 L63.71,365.06 L64.69,365.24 L65.68,365.31 L66.68,365.33 L67.68,365.35 L68.68,365.36 L69.68,365.37 L70.68,365.38 L71.68,365.38 L72.68,365.39 L73.68,365.39 L74.68,365.40 L75.68,365.40 L76.68,365.41 L77.68,365.41 L78.68,365.42 L79.68,365.42 L80.68,365.43 L81.68,365.43 L82.68,365.43 L83.68,365.44 L84.68,365.44 L85.68,365.45 L86.68,365.45 L87.68,365.46 L88.68,365.46 L89.68,365.47 L90.68,365.47 L91.68,365.48 L92.68,365.48 L93.68,365.48 L94.68,365.49 L95.68,365.49 L96.48,365.49" stroke-width="2.3" stroke-dasharray="13.8 8.12 0.01 8.16 0.01 8.11" stroke-dashoffset="1.41"/>
<path d="M96.48,365.49 L97.48,365.50 L98.48,365.50 L99.48,365.51 L100.48,365.51 L101.48,365.51 L102.48,365.52 L103.48,365.52 L104.48,365.52 L105.48,365.53 L106.48,365.53 L107.48,365.53 L108.48,365.54 L109.48,365.54 L110.48,365.54 L111.48,365.55 L112.48,365.55 L113.48,365.55 L114.48,365.56 L115.48,365.56 L116.48,365.56 L117.48,365.57 L118.48,365.57 L119.48,365.57 L120.48,365.57 L121.48,365.58 L122.49,365.58 L123.49,365.58 L124.49,365.58 L125.49,365.59 L126.49,365.59 L127.49,365.59 L128.49,365.60 L129.49,365.60 L130.49,365.60 L131.49,365.60 L132.49,365.61 L133.49,365.61 L134.49,365.61 L135.49,365.61 L136.49,365.61 L137.49,365.62 L138.49,365.62 L139.49,365.62 L140.49,365.62 L141.49,365.62 L142.49,365.63 L143.49,365.63 L144.49,365.63 L145.49,365.63 L146.49,365.64 L147.49,365.64 L148.49,365.64 L149.49,365.64 L150.49,365.64 L151.49,365.65 L152.49,365.65 L153.49,365.65 L154.49,365.65 L155.49,365.65 L156.49,365.65 L157.49,365.66 L158.49,365.66 L159.49,365.66 L160.49,365.66 L161.49,365.66 L162.49,365.66 L163.49,365.67 L164.49,365.67 L165.49,365.67 L166.49,365.67 L167.49,365.67 L168.49,365.67 L169.49,365.68 L170.49,365.68 L171.49,365.68 L172.49,365.68 L173.49,365.68 L174.49,365.68 L175.49,365.69 L176.49,365.69 L177.49,365.69 L178.49,365.69 L179.49,365.69 L180.49,365.69 L181.49,365.69 L182.49,365.70 L183.49,365.70 L184.49,365.70 L185.49,365.70 L186.49,365.70 L187.49,365.70 L188.49,365.70 L189.49,365.71 L190.49,365.71 L191.49,365.71 L192.49,365.71 L193.49,365.71 L194.49,365.71 L195.49,365.72 L196.49,365.72 L197.49,365.72 L198.49,365.72 L199.49,365.72 L200.49,365.72 L201.49,365.72 L202.49,365.73 L203.49,365.73 L204.49,365.73 L205.49,365.73 L206.49,365.73 L207.49,365.73 L208.49,365.74 L209.49,365.74 L210.49,365.74 L211.49,365.74 L212.49,365.74 L213.49,365.74 L214.49,365.75 L215.49,365.75 L216.49,365.75 L217.49,365.75 L218.49,365.75 L219.49,365.75 L220.49,365.76 L221.49,365.76 L222.49,365.76 L223.49,365.76 L224.49,365.76 L225.49,365.76 L226.49,365.77 L227.49,365.77 L228.49,365.77 L229.49,365.77 L230.49,365.77 L231.49,365.78 L232.49,365.78 L233.49,365.78 L234.49,365.78 L235.49,365.78 L236.49,365.79 L237.49,365.79 L238.49,365.79 L239.49,365.79 L240.49,365.80 L241.49,365.80 L242.49,365.80 L243.49,365.80 L244.49,365.80 L245.49,365.81 L246.49,365.81 L247.49,365.81 L248.49,365.81 L249.49,365.82 L250.49,365.82 L251.49,365.82 L252.49,365.83 L253.49,365.83 L254.49,365.83 L255.49,365.83 L256.49,365.84 L257.49,365.84 L258.49,365.84 L259.49,365.84 L260.49,365.85 L261.49,365.85 L262.49,365.85 L263.49,365.86 L264.49,365.86 L265.49,365.86 L266.49,365.87 L267.49,365.87 L268.49,365.87 L269.49,365.88 L270.49,365.88 L271.49,365.88 L272.49,365.89 L273.49,365.89 L274.49,365.89 L275.49,365.90 L276.49,365.90 L277.49,365.90 L278.49,365.91 L279.49,365.91 L280.49,365.91 L281.49,365.92 L282.49,365.92 L283.49,365.93 L284.49,365.93 L285.49,365.94 L286.49,365.94 L287.49,365.94 L288.49,365.95 L289.49,365.95 L290.49,365.96 L291.49,365.96 L292.49,365.97 L293.49,365.97 L294.49,365.98 L295.49,365.98 L296.49,365.98 L297.49,365.99 L298.49,365.99 L299.49,366.00 L300.49,366.00 L301.49,366.01 L302.49,366.01 L303.49,366.02 L304.49,366.03 L305.49,366.03 L306.49,366.04 L307.49,366.04 L308.49,366.05 L309.49,366.06 L310.49,366.06 L311.49,366.07 L312.49,366.08 L313.49,366.08 L314.49,366.09 L315.49,366.10 L316.49,366.11 L317.49,366.12 L318.49,366.12 L319.49,366.13 L320.49,366.14 L321.49,366.15 L322.49,366.16 L323.49,366.17 L324.49,366.18 L325.49,366.19 L326.49,366.20 L327.49,366.21 L328.49,366.22 L329.49,366.23 L330.49,366.24 L331.49,366.25 L332.49,366.26 L333.49,366.28 L334.49,366.29 L335.49,366.30 L336.49,366.31 L337.49,366.32 L338.49,366.34 L339.49,366.35 L340.49,366.36 L341.49,366.37 L342.49,366.39 L343.49,366.40 L344.49,366.42 L345.49,366.43 L346.49,366.45 L347.49,366.46 L348.49,366.47 L349.49,366.49 L350.49,366.51 L351.49,366.52 L352.49,366.54 L353.49,366.55 L354.49,366.57 L355.49,366.59 L356.49,366.60 L357.49,366.62 L358.49,366.64 L359.49,366.66 L360.49,366.68 L361.49,366.69 L362.49,366.71 L363.49,366.73 L364.49,366.75 L365.49,366.77 L366.49,366.79 L367.49,366.81 L368.49,366.83 L369.49,366.85 L370.49,366.87 L371.49,366.89 L372.49,366.91 L373.49,366.93 L374.49,366.96 L375.49,366.98 L376.49,367.00 L377.49,367.02 L378.49,367.04 L379.49,367.07 L380.49,367.09 L381.49,367.12 L382.49,367.14 L383.49,367.16 L384.49,367.19 L385.49,367.21 L386.49,367.24 L387.49,367.27 L388.48,367.31 L389.48,367.34 L390.48,367.38 L391.48,367.43 L392.48,367.47 L393.48,367.52 L394.48,367.57 L395.48,367.62 L396.48,367.67 L397.47,367.73 L398.47,367.79 L399.47,367.85 L400.47,367.91 L401.47,367.97" pathLength="305.680" stroke-width="2.3" stroke-dasharray="13.8 8.12 0.01 8.16 0.01 8.11"/>
<path d="M401.47,367.97 L402.47,368.03 L403.46,368.10 L404.46,368.16 L405.46,368.23 L406.46,368.30 L407.46,368.36 L408.45,368.43 L409.45,368.50 L410.45,368.58 L411.44,368.66 L412.44,368.75 L413.44,368.84 L414.43,368.93 L415.43,369.03 L416.42,369.13 L417.42,369.22 L418.41,369.33 L419.41,369.43 L420.40,369.53 L421.40,369.64 L422.39,369.74 L423.39,369.84 L424.38,369.94 L425.38,370.04 L426.37,370.14 L427.37,370.24 L428.36,370.34 L429.36,370.45 L430.35,370.56 L431.34,370.68 L432.33,370.81 L433.32,370.95 L434.31,371.10 L435.30,371.26 L436.28,371.44 L437.26,371.65" pathLength="38.210" stroke-width="2.3" stroke-dasharray="13.8 8.12 0.01 8.16 0.01 8.11"/>
<path d="M437.26,371.65 L438.23,371.89 L439.20,372.15 L440.15,372.45 L441.10,372.77 L442.04,373.10 L442.97,373.47 L443.90,373.84 L444.83,374.22 L445.74,374.62 L446.66,375.03 L447.57,375.44 L448.47,375.87 L449.37,376.31 L450.25,376.78 L451.12,377.26 L451.99,377.76 L452.85,378.28 L453.69,378.82 L454.53,379.36 L455.36,379.92 L456.17,380.50 L456.98,381.09 L457.78,381.69 L458.57,382.31 L459.34,382.94 L460.10,383.60 L460.84,384.27 L461.55,384.97 L462.25,385.69 L462.93,386.42 L463.58,387.18 L463.97,387.63" pathLength="38.210" stroke-width="2.3" stroke-dasharray="13.8 8.12 0.01 8.16 0.01 8.11"/>
<path d="M463.97,387.63 L464.60,388.41 L465.22,389.20 L465.81,390.00 L466.39,390.82 L466.96,391.64 L467.51,392.47 L468.06,393.31 L468.59,394.16 L469.12,395.01 L469.64,395.86 L470.15,396.72 L470.67,397.58 L471.17,398.44 L471.68,399.30 L472.17,400.17 L472.66,401.04 L473.14,401.92 L473.62,402.80 L474.09,403.68 L474.55,404.57 L475.01,405.46 L475.47,406.35 L475.92,407.24 L476.37,408.13 L476.82,409.03 L477.26,409.92 L477.69,410.82 L478.12,411.73 L478.52,412.64 L478.93,413.56 L479.32,414.48 L479.72,415.39 L480.13,416.31 L480.55,417.21 L480.99,418.11 L481.08,418.29" pathLength="38.210" stroke-width="2.3" stroke-dasharray="13.8 8.12 0.01 8.16 0.01 8.11"/>
<path d="M481.08,418.29 L481.54,419.18 L481.98,420.08 L482.42,420.97 L482.86,421.87 L483.29,422.78 L483.81,423.63 L484.38,424.44 L485.24,424.96 L486.04,424.45 L486.85,423.86 L487.39,423.02 L487.91,422.17 L488.33,421.27 L488.61,420.31 L488.82,419.33 L489.00,418.35 L489.16,417.36 L489.31,416.37 L489.46,415.38 L489.61,414.40 L489.75,413.41 L489.88,412.41 L490.01,411.42 L490.14,410.43 L490.26,409.44 L490.39,408.45 L490.52,407.46 L490.67,406.47 L490.82,405.48 L490.99,404.49 L491.16,403.51 L491.33,402.52 L491.50,401.54 L491.65,400.55 L491.80,399.56 L491.89,398.76" pathLength="38.210" stroke-width="2.3" stroke-dasharray="13.8 8.12 0.01 8.16 0.01 8.11"/>
<path d="M491.89,398.76 L492.00,397.77 L492.08,396.77 L492.16,395.78 L492.23,394.78 L492.29,393.78 L492.35,392.78 L492.41,391.78 L492.46,390.78 L492.51,389.79 L492.57,388.79 L492.62,387.79 L492.67,386.79 L492.73,385.79 L492.79,384.79 L492.85,383.80 L492.91,382.80 L492.97,381.80 L493.03,380.80 L493.10,379.80 L493.17,378.81 L493.25,377.81 L493.33,376.81 L493.42,375.82 L493.51,374.82 L493.60,373.82 L493.72,372.83 L493.86,371.84 L494.03,370.86 L494.26,369.88 L494.81,369.07 L495.44,368.29 L496.11,367.59 L497.11,367.49 L498.10,367.38 L499.10,367.29 L500.10,367.26 L500.30,367.26" pathLength="38.210" stroke-width="2.3" stroke-dasharray="13.8 8.12 0.01 8.16 0.01 8.11"/>
<path d="M500.30,367.26 L501.29,367.23 L502.29,367.21 L503.29,367.18 L504.29,367.16 L505.29,367.14 L506.29,367.12 L507.29,367.10 L508.29,367.09 L509.29,367.07 L510.29,367.06 L511.29,367.05 L512.29,367.04 L513.29,367.03 L514.29,367.02 L515.29,367.02 L516.29,367.01 L517.29,367.01 L518.29,367.00 L519.29,367.00 L520.29,367.00 L521.29,367.00 L522.29,367.00 L523.29,367.00 L524.29,367.00 L525.29,367.00 L526.29,366.99 L527.29,366.99 L528.29,366.99 L529.29,366.99 L530.29,366.99 L531.29,366.99 L532.29,366.99 L533.29,366.99 L534.29,366.99 L535.29,366.99 L536.29,366.99 L537.29,366.99 L538.29,366.99 L539.29,366.98 L540.29,366.98 L541.29,366.98 L542.29,366.98 L543.29,366.98 L544.29,366.98 L545.29,366.98 L546.29,366.98 L547.29,366.98 L548.29,366.98 L549.30,366.98 L550.30,366.98 L551.30,366.98 L552.30,366.98 L553.30,366.98 L554.30,366.98 L555.30,366.97 L556.30,366.97 L557.30,366.97 L558.30,366.97 L559.30,366.97 L560.30,366.97 L561.30,366.97 L562.30,366.97 L563.30,366.97 L564.30,366.97 L565.30,366.97 L566.30,366.97 L567.30,366.97 L568.30,366.97 L569.30,366.97 L570.30,366.97 L571.30,366.97 L572.30,366.97 L573.30,366.97 L574.30,366.97 L575.30,366.96 L576.30,366.96 L577.30,366.96 L578.30,366.96 L579.30,366.96 L580.30,366.96 L581.30,366.96 L582.30,366.96 L583.30,366.96 L584.30,366.96 L585.30,366.96 L586.30,366.96 L587.30,366.96 L588.30,366.96 L589.30,366.96 L590.30,366.96 L591.30,366.96 L592.30,366.96 L593.30,366.96 L594.30,366.96 L595.30,366.96 L596.30,366.96 L597.30,366.96 L598.30,366.96 L599.30,366.96 L600.30,366.96 L601.30,366.96 L602.30,366.96 L603.30,366.96 L604.30,366.96 L605.30,366.96 L606.30,366.96 L607.30,366.96 L608.30,366.95 L609.30,366.95 L610.30,366.95 L611.30,366.95 L612.30,366.95 L613.30,366.95 L614.30,366.95 L615.30,366.95 L616.30,366.95 L617.30,366.95 L618.30,366.95 L619.30,366.95 L620.30,366.95 L621.30,366.95 L622.30,366.95 L623.30,366.95 L624.30,366.95 L625.30,366.95 L626.30,366.95 L627.30,366.95 L628.30,366.95 L629.30,366.95 L630.30,366.95 L631.30,366.95 L632.30,366.95 L633.30,366.95 L634.30,366.95 L635.30,366.95 L636.30,366.95 L637.30,366.95 L638.30,366.95 L639.30,366.95 L640.30,366.95 L641.30,366.95 L642.30,366.95 L643.30,366.95 L644.30,366.95 L645.30,366.95 L646.30,366.95 L647.30,366.95 L648.30,366.95 L649.30,366.95 L650.30,366.95 L651.30,366.95 L652.30,366.95 L652.70,366.95" pathLength="152.840" stroke-width="2.3" stroke-dasharray="13.8 8.12 0.01 8.16 0.01 8.11"/>
<path d="M652.70,366.95 L653.70,366.95 L654.70,366.95 L655.70,366.95 L656.70,366.95 L657.70,366.95 L658.70,366.95 L659.70,366.95 L660.70,366.95 L661.70,366.95 L662.70,366.95 L662.90,366.95" stroke-width="2.3" stroke-dasharray="13.8 8.12 0.01 8.16 0.01 8.11"/>
<path d="M61.30,465.95 L62.00,468.25 L63.29,469.05 L65.00,469.45 L66.62,469.52 L68.27,469.56 L69.95,469.60 L71.63,469.62 L73.32,469.64 L75.00,469.65 L85.42,469.72 L95.83,469.77 L106.25,469.81 L116.66,469.84 L127.08,469.87 L137.50,469.89 L147.92,469.92 L158.33,469.94 L168.75,469.96 L179.17,469.98 L189.58,470.01 L200.00,470.05 L211.67,470.10 L223.33,470.14 L235.00,470.18 L246.67,470.22 L258.34,470.27 L270.01,470.32 L281.68,470.37 L293.34,470.44 L305.01,470.52 L316.67,470.61 L328.34,470.72 L340.00,470.85 L343.10,470.90 L346.20,470.97 L349.30,471.05 L352.40,471.16 L355.51,471.28 L358.61,471.41 L361.71,471.55 L364.81,471.70 L367.91,471.86 L371.00,472.02 L374.10,472.19 L377.20,472.35 L378.74,472.43 L380.29,472.52 L381.83,472.61 L383.37,472.71 L384.92,472.81 L386.46,472.92 L388.00,473.03 L389.54,473.14 L391.08,473.26 L392.62,473.38 L394.16,473.51 L395.70,473.65 L397.25,473.79 L398.81,473.95 L400.36,474.11 L401.92,474.27 L403.47,474.45 L405.03,474.64 L406.58,474.83 L408.13,475.04 L409.67,475.25 L411.22,475.48 L412.76,475.71 L414.30,475.95 L415.80,476.20 L417.31,476.47 L418.81,476.75 L420.31,477.06 L421.81,477.38 L423.30,477.72 L424.79,478.08 L426.27,478.45 L427.74,478.84 L429.20,479.25 L430.82,479.74 L432.43,480.29 L434.03,480.88 L435.61,481.51 L437.19,482.17 L438.75,482.86 L440.30,483.55 L441.67,484.18 L443.04,484.83 L444.40,485.51 L445.75,486.22 L447.07,486.96 L448.35,487.74 L449.60,488.55 L450.91,489.50 L452.19,490.53 L453.44,491.61 L454.65,492.74 L455.84,493.89 L457.00,495.05 L458.18,496.29 L459.32,497.57 L460.44,498.88 L461.53,500.21 L462.60,501.55 L463.55,502.85 L464.44,504.20 L465.34,505.56 L466.27,506.86 L467.30,508.05 L468.59,509.45 L470.00,510.25 L471.49,509.62 L472.80,508.45 L473.69,507.19 L474.43,505.68 L475.06,504.05 L475.60,502.45 L476.06,500.94 L476.48,499.41 L476.86,497.85 L477.20,496.29 L477.52,494.72 L477.80,493.15 L478.05,491.57 L478.28,489.99 L478.48,488.40 L478.67,486.81 L478.87,485.22 L479.07,483.63 L479.30,482.05 L479.52,480.53 L479.72,478.99 L479.95,477.46 L480.23,475.97 L480.60,474.55 L481.45,472.60 L482.70,471.25 L484.60,470.76 L486.80,470.55 L489.55,470.51 L492.30,470.48 L495.06,470.45 L497.82,470.42 L500.59,470.40 L503.36,470.39 L506.14,470.37 L508.91,470.36 L511.69,470.36 L514.46,470.35 L517.23,470.35 L520.00,470.35 L531.91,470.35 L543.82,470.35 L555.72,470.35 L567.63,470.35 L579.54,470.35 L591.45,470.35 L603.36,470.35 L615.27,470.35 L627.17,470.35 L639.08,470.35 L650.99,470.35 L662.90,470.35" stroke-width="2.3"/>
<path d="M694,57.85 H756.4" stroke-width="2.3" stroke-dasharray="0.01 3.885"/>
<path d="M694,161.45 H756" stroke-width="2.15" stroke-dasharray="6.15 7.41"/>
<path d="M694,265 H759.3" stroke-width="2.2" stroke-dasharray="13.85 7.5"/>
<path d="M694.25,368.9 H752.6" stroke-width="2.35" stroke-dasharray="13.3 7.75 0.01 7.9 0.01 7.95"/>
<path d="M694,472.6 H759.4" stroke-width="2.2"/>
</g>
<g fill="none" stroke="#000" stroke-width="2.05">
<path d="M60.55,0 V569.85"/>
<path d="M59.5,569.2 H661.7"/>
<path d="M146.36,559 V569.2"/>
<path d="M232.08,559 V569.2"/>
<path d="M317.79,559 V569.2"/>
<path d="M403.51,559 V569.2"/>
<path d="M489.22,559 V569.2"/>
<path d="M574.93,559 V569.2"/>
<path d="M660.65,559 V569.2"/>
<path d="M673.5,6 H967.6 V524.3 H673.5 Z" stroke-width="2.3"/>
<path d="M41.1,392.3 V527" stroke-width="2.3"/>
</g>
<path d="M36,524.8 H46.6 L41.3,540.6 Z" fill="#000"/>
<text x="40.0" y="611.8" textLength="42.0" lengthAdjust="spacingAndGlyphs">-50</text>
<text x="126.0" y="611.8" textLength="40.95" lengthAdjust="spacingAndGlyphs">-40</text>
<text x="210.8" y="611.8" textLength="41.93" lengthAdjust="spacingAndGlyphs">-30</text>
<text x="297.4" y="611.8" textLength="41.0" lengthAdjust="spacingAndGlyphs">-20</text>
<text x="383.4" y="611.8" textLength="40.38" lengthAdjust="spacingAndGlyphs">-10</text>
<text x="480.8" y="611.8" textLength="15.98" lengthAdjust="spacingAndGlyphs">0</text>
<text x="558.2" y="611.8" textLength="32.49" lengthAdjust="spacingAndGlyphs">10</text>
<text x="643.4" y="611.8" textLength="33.55" lengthAdjust="spacingAndGlyphs">20</text>
<text y="656.7"><tspan x="277.4" font-size="32" textLength="178.35" lengthAdjust="spacingAndGlyphs">Temperature</tspan> <tspan x="464.2" font-size="32" textLength="50.76" lengthAdjust="spacingAndGlyphs">(°C)</tspan></text>
<text transform="translate(27.0,309.0) rotate(-90)"><tspan x="0.0" font-size="32" textLength="65.95" lengthAdjust="spacingAndGlyphs">Heat</tspan> <tspan x="73.8" font-size="32" textLength="60.69" lengthAdjust="spacingAndGlyphs">flow</tspan> <tspan x="141.0" font-size="32" textLength="80.54" lengthAdjust="spacingAndGlyphs">(mW)</tspan></text>
<text transform="translate(28.3,486.2) rotate(-90)" font-size="32" textLength="70.67" lengthAdjust="spacingAndGlyphs">Endo</text>
<text y="67.1"><tspan x="766.2" textLength="15.98" lengthAdjust="spacingAndGlyphs">0</tspan> <tspan x="790.8" textLength="23.82" lengthAdjust="spacingAndGlyphs">%</tspan> <tspan x="823.0" font-size="32" textLength="111.47" lengthAdjust="spacingAndGlyphs">glycerin</tspan></text>
<text y="169.7"><tspan x="766.0" textLength="37.56" lengthAdjust="spacingAndGlyphs">0.1</tspan> <tspan x="813.4" textLength="23.82" lengthAdjust="spacingAndGlyphs">%</tspan> <tspan x="846.4" font-size="32" textLength="110.45" lengthAdjust="spacingAndGlyphs">glycerin</tspan></text>
<text y="273.6"><tspan x="766.2" textLength="15.17" lengthAdjust="spacingAndGlyphs">1</tspan> <tspan x="789.6" textLength="24.88" lengthAdjust="spacingAndGlyphs">%</tspan> <tspan x="822.6" font-size="32" textLength="111.97" lengthAdjust="spacingAndGlyphs">glycerin</tspan></text>
<text y="378.0"><tspan x="765.4" textLength="16.58" lengthAdjust="spacingAndGlyphs">5</tspan> <tspan x="789.6" textLength="24.88" lengthAdjust="spacingAndGlyphs">%</tspan> <tspan x="822.6" font-size="32" textLength="111.97" lengthAdjust="spacingAndGlyphs">glycerin</tspan></text>
<text y="481.3"><tspan x="766.2" textLength="29.05" lengthAdjust="spacingAndGlyphs">10</tspan> <tspan x="805.4" textLength="24.86" lengthAdjust="spacingAndGlyphs">%</tspan> <tspan x="838.8" font-size="32" textLength="110.97" lengthAdjust="spacingAndGlyphs">glycerin</tspan></text>
</svg></body></html>
